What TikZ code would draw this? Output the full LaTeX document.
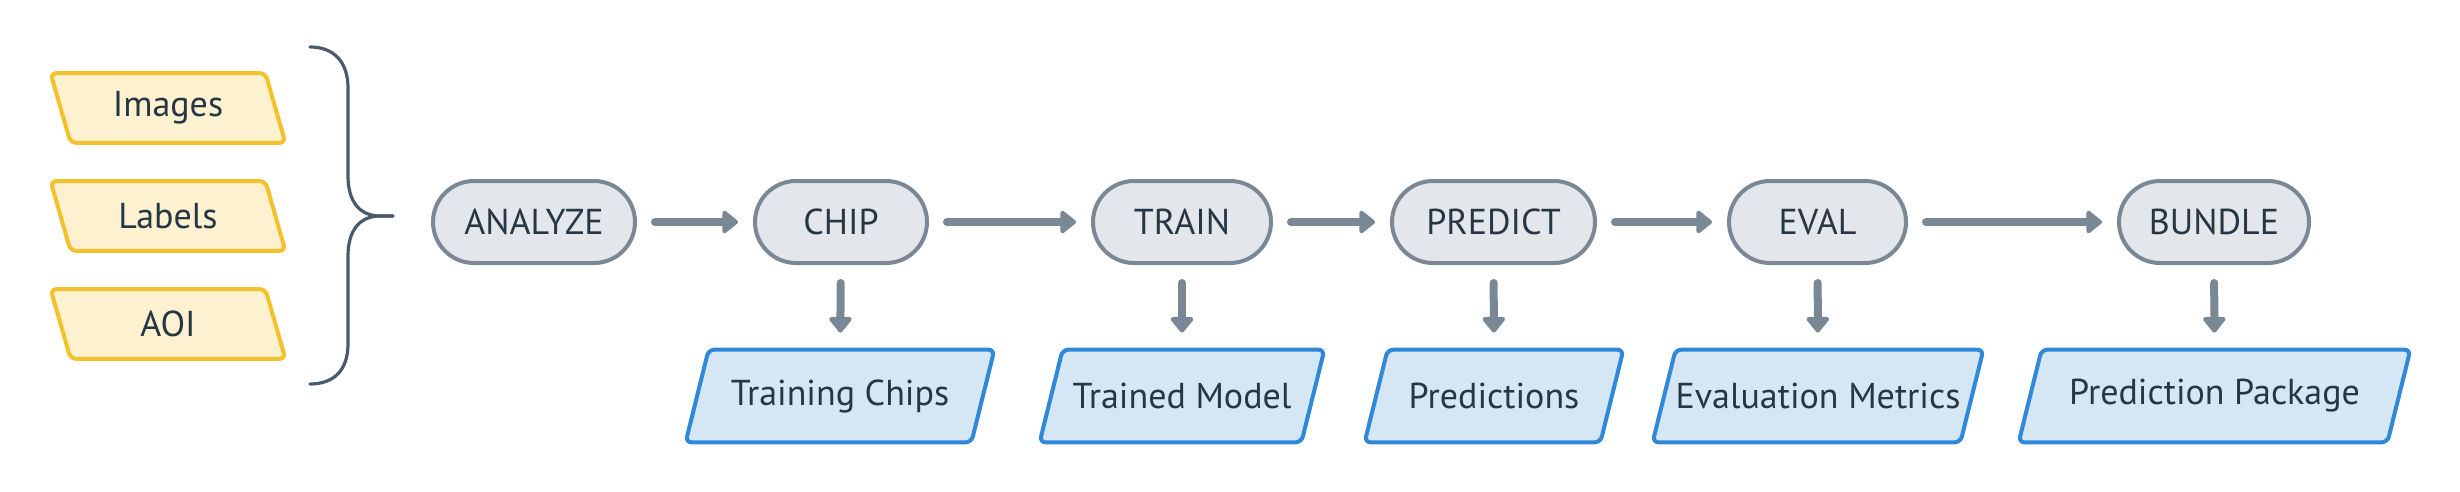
\documentclass[tikz,border=0pt]{standalone}
\usepackage{fontspec}
\setmainfont{PT Sans}
\usetikzlibrary{arrows.meta,backgrounds}
\definecolor{txt}{HTML}{263645}
\definecolor{pillfill}{HTML}{E3E7EB}
\definecolor{pilldraw}{HTML}{7A8795}
\definecolor{outfill}{HTML}{D5E6F5}
\definecolor{outdraw}{HTML}{2F88D8}
\definecolor{infill}{HTML}{FDF1D0}
\definecolor{indraw}{HTML}{F5C12A}
\definecolor{bracecol}{HTML}{4A5A6A}
\newcommand\paraframe[4]{% node, top shift, bottom shift, style
  \path[#4] ([xshift=#2]#1.north west) -- ([xshift=#2]#1.north east)
    -- ([xshift=#3]#1.south east) -- ([xshift=#3]#1.south west) -- cycle;}
\tikzset{
  lbl/.style={text=txt, font=\fontsize{18}{21}\selectfont},
  pill/.style={lbl, rectangle, rounded corners=20.5pt, draw=pilldraw, fill=pillfill, line width=2pt,
    minimum height=41pt, inner sep=0pt},
  inbox/.style={lbl, rectangle, minimum width=107pt, minimum height=34.5pt, inner sep=0pt},
  outbox/.style={lbl, rectangle, minimum height=46pt, inner sep=0pt},
  inframe/.style={draw=indraw, fill=infill, line width=2pt, rounded corners=3pt, line join=round},
  outframe/.style={draw=outdraw, fill=outfill, line width=2pt, rounded corners=3pt, line join=round},
  flow/.style={draw=pilldraw, line width=4pt, line cap=round,
    -{Triangle[length=8.5pt,width=13pt,round]}, shorten <=9pt, shorten >=7.5pt},
  down/.style={flow, shorten <=9pt, shorten >=8.5pt},
  bracepath/.style={draw=bracecol, line width=1.6pt, line cap=round}
}
\begin{document}
\begin{tikzpicture}[x=0.5pt,y=-0.5pt]
\useasboundingbox (0,0) rectangle (2460,492);

% inputs
\node[inbox] (images) at (168,108) {Images};
\node[inbox] (labels) at (168,216) {Labels};
\node[inbox] (aoi) at (168,324) {AOI};

% brace
\coordinate (bracetip) at (393,216);
\draw[bracepath] (310,47) .. controls (334,47) and (348,62) .. (348,88) -- (348,176)
  .. controls (348,202) and (360,216) .. (380,216) -- (bracetip);
\draw[bracepath] (bracetip) -- (380,216) .. controls (360,216) and (348,230) .. (348,256) -- (348,344)
  .. controls (348,370) and (334,384) .. (310,384);

% pipeline
\node[pill, minimum width=101pt] (analyze) at (534,222) {ANALYZE};
\node[pill, minimum width=86pt] (chip) at (841,222) {CHIP};
\node[pill, minimum width=89pt] (train) at (1182,222) {TRAIN};
\node[pill, minimum width=101.5pt] (predict) at (1493.5,222) {PREDICT};
\node[pill, minimum width=88.5pt] (eval) at (1817.5,222) {EVAL};
\node[pill, minimum width=95pt] (bundle) at (2214,222) {BUNDLE};

% outputs
\node[outbox, minimum width=142.5pt] (chips) at (840,396) {Training Chips};
\node[outbox, minimum width=130.5pt] (model) at (1182,396) {Trained Model};
\node[outbox, minimum width=117.5pt] (preds) at (1494,396) {Predictions};
\node[outbox, minimum width=153.5pt] (metrics) at (1818,396) {Evaluation Metrics};
\node[outbox, minimum width=184pt] (package) at (2214.5,396) {Prediction Package};

\begin{scope}[on background layer]
  \paraframe{images}{-5pt}{5pt}{inframe}
  \paraframe{labels}{-5pt}{5pt}{inframe}
  \paraframe{aoi}{-5pt}{5pt}{inframe}
  \paraframe{chips}{5.75pt}{-5.75pt}{outframe}
  \paraframe{model}{5.75pt}{-5.75pt}{outframe}
  \paraframe{preds}{5.75pt}{-5.75pt}{outframe}
  \paraframe{metrics}{5.75pt}{-5.75pt}{outframe}
  \paraframe{package}{5.75pt}{-5.75pt}{outframe}
\end{scope}

\draw[flow] (analyze) -- (chip);
\draw[flow] (chip) -- (train);
\draw[flow] (train) -- (predict);
\draw[flow] (predict) -- (eval);
\draw[flow] (eval) -- (bundle);

\draw[down] (chip) -- (chips);
\draw[down] (train) -- (model);
\draw[down] (predict) -- (preds);
\draw[down] (eval) -- (metrics);
\draw[down] (bundle) -- (package);
\end{tikzpicture}
\end{document}
